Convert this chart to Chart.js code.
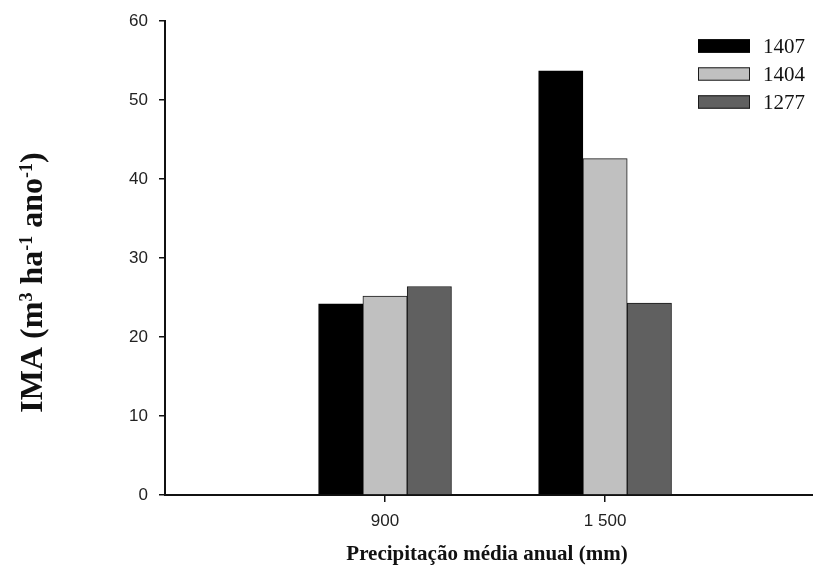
<!DOCTYPE html>
<html>
<head>
<meta charset="utf-8">
<script src="https://cdn.jsdelivr.net/npm/chart.js@4/dist/chart.umd.min.js"></script>
<style>
  html, body { margin: 0; padding: 0; background: #fff; }
  #wrap { width: 813px; height: 573px; position: relative; }
</style>
</head>
<body>
<div id="wrap"><canvas id="c"></canvas></div>
<script>
// Mean annual precipitation classes (x-axis categories)
const categories = ['900', '1 500'];
// Clone names shown in the legend
const seriesNames = ['1407', '1404', '1277'];
// IMA values (m³ ha⁻¹ ano⁻¹) per clone, one entry per precipitation class
const ima1407 = [24.2, 53.7];
const ima1404 = [25.2, 42.6];
const ima1277 = [26.4, 24.3];
// Y-axis range
const yTicks = [0, 10, 20, 30, 40, 50, 60];

const fills = ['#000000', '#c0c0c0', '#606060'];
const edges = ['#000000', '#1a1a1a', '#1a1a1a'];
const seriesValues = [ima1407, ima1404, ima1277];

const datasets = seriesValues.map((vals, s) => ({
  label: seriesNames[s],
  data: vals.map((v, i) => ({ x: i + 1, y: v })),
  backgroundColor: fills[s],
  borderColor: edges[s],
  borderWidth: 1,
  barThickness: 44.3
}));

// Legend: boxes with labels in the top-right corner
const legendPlugin = {
  id: 'boxLegend',
  afterDraw(chart) {
    const ctx = chart.ctx;
    ctx.save();
    ctx.font = '21px "Liberation Serif", "Times New Roman", serif';
    ctx.textBaseline = 'middle';
    ctx.textAlign = 'left';
    chart.data.datasets.forEach((ds, i) => {
      const cy = 46 + i * 28;
      ctx.fillStyle = ds.backgroundColor;
      ctx.fillRect(698, cy - 6.7, 52, 13.4);
      ctx.strokeStyle = ds.borderColor;
      ctx.lineWidth = 1;
      ctx.strokeRect(698.5, cy - 6.2, 51, 12.4);
      ctx.fillStyle = '#111';
      ctx.fillText(ds.label, 763, cy + 1);
    });
    ctx.restore();
  }
};

// Axis titles (y title carries superscripts)
const titlePlugin = {
  id: 'axisTitles',
  afterDraw(chart) {
    const ctx = chart.ctx;
    ctx.save();
    ctx.fillStyle = '#111';
    ctx.font = 'bold 21px "Liberation Serif", "Times New Roman", serif';
    ctx.textAlign = 'center';
    ctx.textBaseline = 'alphabetic';
    ctx.fillText('Precipitação média anual (mm)', 487, 560);

    const main = 'bold 32px "Liberation Serif", "Times New Roman", serif';
    const sup = 'bold 18px "Liberation Serif", "Times New Roman", serif';
    const parts = [
      ['IMA (m', main, 0], ['3', sup, -10], [' ha', main, 0], ['-1', sup, -10],
      [' ano', main, 0], ['-1', sup, -10], [')', main, 0]
    ];
    let total = 0;
    parts.forEach(p => { ctx.font = p[1]; total += ctx.measureText(p[0]).width; });
    ctx.translate(42, 282.5);
    ctx.rotate(-Math.PI / 2);
    ctx.textAlign = 'left';
    let x = -total / 2;
    parts.forEach(p => {
      ctx.font = p[1];
      ctx.fillText(p[0], x, p[2]);
      x += ctx.measureText(p[0]).width;
    });
    ctx.restore();
  }
};

new Chart(document.getElementById('c'), {
  type: 'bar',
  data: { datasets },
  options: {
    responsive: true,
    maintainAspectRatio: false,
    animation: false,
    layout: { padding: { top: 21, right: 0, left: 0, bottom: 0 } },
    plugins: { legend: { display: false }, tooltip: { enabled: false } },
    scales: {
      x: {
        type: 'linear',
        min: 0,
        max: 2.945,
        offset: false,
        afterBuildTicks: (scale) => {
          scale.ticks = categories.map((c, i) => ({ value: i + 1 }));
        },
        afterFit: (scale) => { scale.height = 78; },
        ticks: {
          callback: (v) => categories[v - 1] ?? '',
          color: '#222',
          font: { family: '"Liberation Sans", Arial, sans-serif', size: 17 },
          padding: 9,
          maxRotation: 0
        },
        grid: { offset: false, drawOnChartArea: false, drawTicks: true, tickLength: 7, color: '#111', lineWidth: 1.5 },
        border: { display: true, color: '#111', width: 2 }
      },
      y: {
        min: yTicks[0],
        max: yTicks[yTicks.length - 1],
        afterBuildTicks: (scale) => {
          scale.ticks = yTicks.map(v => ({ value: v }));
        },
        afterFit: (scale) => { scale.width = 165; },
        ticks: {
          color: '#222',
          font: { family: '"Liberation Sans", Arial, sans-serif', size: 17 },
          padding: 11
        },
        grid: { drawOnChartArea: false, drawTicks: true, tickLength: 6, color: '#111', lineWidth: 1.5 },
        border: { display: true, color: '#111', width: 2 }
      }
    }
  },
  plugins: [legendPlugin, titlePlugin]
});
</script>
</body>
</html>
